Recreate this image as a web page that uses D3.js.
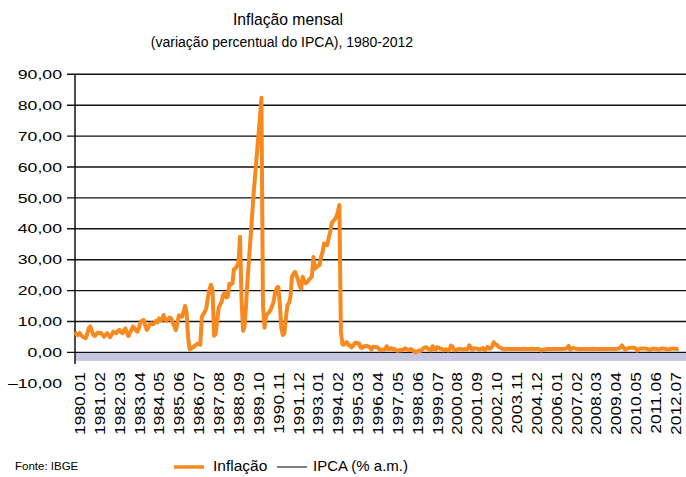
<!DOCTYPE html>
<html>
<head>
<meta charset="utf-8">
<script src="https://cdn.jsdelivr.net/npm/d3@7"></script>
<style>
  body { margin: 0; background: #fff; }
  text { font-family: "Liberation Sans", Arial, sans-serif; fill: #000; }
</style>
</head>
<body>
<div id="chart"></div>
<script>
// monthly IPCA (%)
var ipca1980s = [
  6.6, 5.8, 5.6, 6.3, 5.6, 5.1, 4.8, 4.6, 5.9, 7.8, 8.4, 6.9,
  5.6, 5.3, 5.9, 6.4, 6.2, 6.3, 5.7, 5.1, 5.6, 6.2, 5.6, 4.9,
  5.7, 6.7, 6.5, 6.2, 6.9, 7.3, 6.6, 6.2, 7.1, 7.8, 6.3, 5.3,
  6.3, 7.4, 8.4, 7.8, 7.0, 6.7, 8.2, 9.9, 10.3, 10.5, 8.6, 7.3,
  8.2, 9.0, 9.4, 9.1, 9.4, 10.2, 9.8, 11.0, 10.3, 10.6, 12.1, 10.6,
  10.2, 10.8, 11.3, 11.0, 9.5, 8.5, 7.2, 9.5, 12.0, 11.8, 11.5, 13.0,
  15.0, 13.0, 5.0, 1.0, 1.2, 1.6, 1.9, 2.4, 2.8, 2.7, 2.5, 11.5,
  12.4, 13.2, 14.5, 17.9, 20.5, 21.9, 20.0, 5.4, 6.0, 10.0, 14.5, 15.5,
  16.5, 18.7, 19.1, 17.8, 18.0, 22.2, 22.0, 22.3, 26.9, 27.2, 28.0, 29.0,
  37.4, 16.8, 7.0, 8.5, 16.0, 24.0, 31.0, 38.0, 45.0, 52.0, 58.0, 64.0
];
var ipca1990s = [
  70.0, 76.0, 82.4, 15.5, 8.0, 11.8, 12.4, 13.0, 13.8, 15.0, 16.5, 19.5,
  20.8, 21.2, 16.0, 8.0, 5.6, 6.1, 11.0, 15.3, 16.0, 18.0, 24.5, 25.5,
  26.1, 24.8, 23.4, 21.5, 20.7, 24.5, 23.0, 22.4, 22.8, 23.4, 24.0, 24.5,
  30.9, 27.1, 27.5, 28.0, 28.2, 30.9, 32.5, 35.3, 34.9, 34.7, 37.0, 39.0,
  41.8, 42.5, 43.0, 43.9, 45.5, 47.7, 6.8, 2.6, 2.5, 3.1, 3.3, 2.3,
  2.3, 1.6, 2.1, 3.0, 3.2, 2.8, 2.9, 1.5, 1.5, 2.0, 2.0, 2.1,
  1.9, 1.6, 0.9, 1.8, 1.8, 1.7, 1.7, 1.0, 0.7, 0.9, 0.9, 1.0,
  2.0, 1.1, 1.1, 1.4, 1.0, 1.1, 0.8, 0.5, 0.6, 0.8, 0.7, 1.0,
  1.3, 1.0, 0.9, 0.8, 1.1, 0.6, 0.4, 0.0, 0.3, 0.6, 0.4, 0.9,
  1.3, 1.6, 1.7, 1.1, 0.9, 0.7, 2.0, 1.1, 0.9, 1.7, 1.5, 1.2
];
var ipca2000s = [
  1.2, 0.7, 0.8, 1.0, 0.6, 0.8, 2.2, 1.9, 0.8, 0.7, 0.9, 1.1,
  1.1, 1.0, 0.9, 1.1, 1.0, 1.1, 2.3, 1.3, 0.8, 1.4, 1.3, 1.2,
  1.1, 0.9, 1.2, 1.4, 0.8, 1.0, 1.8, 1.2, 1.3, 1.9, 3.3, 2.6,
  2.5, 1.9, 1.6, 1.3, 1.1, 1.0, 1.1, 1.1, 1.2, 1.1, 1.1, 1.1,
  1.1, 1.1, 1.1, 1.1, 1.1, 1.1, 1.2, 1.1, 1.1, 1.1, 1.1, 1.2,
  1.1, 1.1, 1.1, 1.2, 1.0, 0.6, 0.8, 0.9, 1.0, 1.1, 1.1, 1.1,
  1.1, 1.1, 1.1, 1.1, 1.1, 1.1, 1.1, 1.1, 1.2, 1.2, 1.4, 2.1,
  0.9, 1.2, 1.4, 1.3, 1.2, 1.1, 1.1, 1.1, 1.1, 1.1, 1.1, 1.1,
  1.1, 1.1, 1.1, 1.2, 1.1, 1.1, 1.1, 1.1, 1.1, 1.1, 1.1, 1.1,
  1.1, 1.1, 1.1, 1.1, 1.1, 1.1, 1.1, 1.2, 1.3, 1.6, 2.3, 1.5
];
var ipca2010s = [
  0.9, 1.1, 1.3, 1.5, 1.5, 1.5, 1.5, 1.2, 0.6, 1.0, 1.3, 1.3,
  1.3, 1.3, 1.2, 1.0, 0.8, 1.0, 1.2, 1.2, 1.1, 1.0, 0.9, 1.1,
  1.3, 1.3, 1.2, 1.0, 0.9, 1.0, 1.2, 1.3, 1.2, 1.2, 1.1, 1.2
];
var yTicks = [-10, 0, 10, 20, 30, 40, 50, 60, 70, 80, 90];

var ipca = ipca1980s.concat(ipca1990s, ipca2000s, ipca2010s);
// category labels "1980.01" ... "2012.12"
var months = ipca.map(function(d, i) {
  return (1980 + Math.floor(i / 12)) + "." + String(i % 12 + 1).padStart(2, "0");
});
var data = ipca.map(function(v, i) { return {m: months[i], v: v}; });
var xLabels = months.filter(function(d, i) { return i % 13 === 0; });

var width = 686, height = 477;
var orange = "#f7891f";

var svg = d3.select("#chart")
  .append("svg")
    .attr("width", width)
    .attr("height", height);

var x = d3.scalePoint()
  .domain(months)
  .range([75, 678.6]);

var y = d3.scaleLinear()
  .domain([-10, 90])
  .range([383.3, 74.3]);

// lavender strip under zero
svg.append("rect")
  .attr("x", 75)
  .attr("y", y(0))
  .attr("width", width - 75)
  .attr("height", y(-2.75) - y(0))
  .style("fill", "#c8c5e1");

// gridlines + tick marks
var gridVals = yTicks.filter(function(d) { return d >= 0; });
svg.append("g")
  .selectAll("line")
  .data(gridVals)
  .enter()
  .append("line")
    .attr("x1", 67)
    .attr("x2", width)
    .attr("y1", function(d) { return y(d); })
    .attr("y2", function(d) { return y(d); })
    .style("stroke", "#111")
    .style("stroke-width", 1.4);

// y axis line
svg.append("line")
  .attr("x1", 75).attr("x2", 75)
  .attr("y1", y(90)).attr("y2", 364)
  .style("stroke", "#111")
  .style("stroke-width", 1.5);

// y labels (wide looking font -> stretch horizontally)
var fmt = d3.format(".2f");
svg.append("g")
  .selectAll("text")
  .data(yTicks)
  .enter()
  .append("text")
    .attr("transform", function(d) { return "translate(62," + y(d) + ") scale(1.36,1)"; })
    .attr("text-anchor", "end")
    .attr("dy", "0.36em")
    .style("font-size", "13px")
    .text(function(d) { return (d < 0 ? "\u2013" + fmt(-d) : fmt(d)).replace(".", ","); });

// x labels, rotated
svg.append("g")
  .selectAll("text")
  .data(xLabels)
  .enter()
  .append("text")
    .attr("transform", function(d) { return "translate(" + (x(d) + 10) + ",372) rotate(-90) scale(1.245,1)"; })
    .attr("text-anchor", "end")
    .style("font-size", "14px")
    .text(function(d) { return d; });

// the series
var line = d3.line()
  .x(function(d) { return x(d.m); })
  .y(function(d) { return y(d.v); });

svg.append("path")
  .datum(data)
  .attr("d", line)
  .style("fill", "none")
  .style("stroke", orange)
  .style("stroke-width", 4)
  .style("stroke-linejoin", "round");

// titles
svg.append("text")
  .attr("transform", "translate(288,25) scale(0.925,1)")
  .attr("text-anchor", "middle")
  .style("font-size", "17px")
  .text("Inflação mensal");
svg.append("text")
  .attr("x", 282).attr("y", 47)
  .attr("text-anchor", "middle")
  .style("font-size", "14px")
  .text("(variação percentual do IPCA), 1980-2012");

// source + handmade legend
svg.append("text").attr("x", 15).attr("y", 470).style("font-size", "11.5px").text("Fonte: IBGE");
svg.append("line").attr("x1", 174).attr("x2", 204).attr("y1", 467).attr("y2", 467)
  .style("stroke", orange).style("stroke-width", 3.5);
svg.append("text").attr("x", 213).attr("y", 471).style("font-size", "15.5px").text("Inflação");
svg.append("line").attr("x1", 277).attr("x2", 307).attr("y1", 467).attr("y2", 467)
  .style("stroke", "#000").style("stroke-width", 1);
svg.append("text").attr("x", 313).attr("y", 471).style("font-size", "15px").text("IPCA (% a.m.)");
</script>
</body>
</html>
